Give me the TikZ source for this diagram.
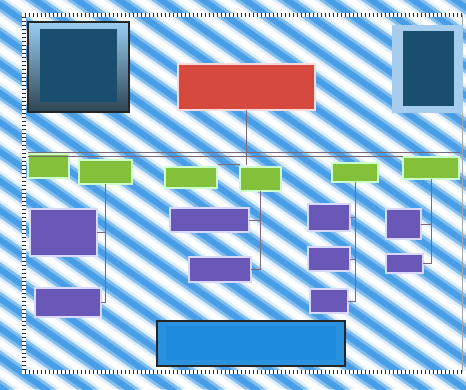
\documentclass[tikz,border=0pt]{standalone}
\definecolor{bglight}{HTML}{B2D8F6}
\definecolor{bgblue}{HTML}{479EE6}
\definecolor{grn}{HTML}{84C13A}
\definecolor{pur}{HTML}{6A58B8}
\definecolor{redb}{HTML}{D6493F}
\definecolor{tealc}{HTML}{1A4E6E}
\definecolor{botblue}{HTML}{2A91DE}
\definecolor{botin}{HTML}{1E8ADD}
\definecolor{conn}{HTML}{7C6878}
\definecolor{framec}{HTML}{1E2A4A}
\definecolor{tltop}{HTML}{9ACDF2}
\definecolor{tlmid}{HTML}{5E9CC4}
\definecolor{tlbot}{HTML}{2C4452}
\definecolor{trout}{HTML}{A6CDEE}
\newcommand\bx[6]{\node[#1, minimum width={(#5-#3)*1pt}, minimum height={(#6-#4)*1pt}] (#2) at ({(#3+#5)/2},{(#4+#6)/2}) {};}
\begin{document}
\begin{tikzpicture}[x=1pt,y=-1pt,
  base/.style={inner sep=0pt, outer sep=0pt, rectangle},
  greenbox/.style={base, fill=grn, draw=white!80!green, line width=1.6pt},
  purbox/.style={base, fill=pur, draw=white!85!blue, line width=1.6pt},
  redbox/.style={base, fill=redb, draw=white!85!red, line width=1.6pt},
  tealbox/.style={base, fill=tealc},
  conline/.style={draw=conn, line width=1pt}]
\path[use as bounding box] (0,0) rectangle (466,389);
\fill[bglight] (0,0) rectangle (466,389);
\begin{scope}
\clip (0,0) rectangle (466,389);
\foreach \k in {-630,-588,...,500} {
  \draw[bgblue, opacity=0.45, line width=13pt] (\k+21,-10) -- ++(600,420);
  \draw[bgblue, line width=6pt] (\k+21,-10) -- ++(600,420);
  \draw[white, opacity=0.6, line width=12pt] (\k,-10) -- ++(600,420);
  \draw[white, line width=6pt] (\k,-10) -- ++(600,420);
}
\end{scope}
% dotted frame
\coordinate (fTL) at (24,15);
\coordinate (fTR) at (462,15);
\coordinate (fBR) at (462,372);
\coordinate (fBL) at (24,372);
\draw[white, line width=4.5pt] (fTR) -- (fTL) -- (fBL) -- (fBR);
\draw[framec, line width=4.5pt, dash pattern=on 1.4pt off 2.6pt] (fTR) -- (fTL) -- (fBL) -- (fBR);
\draw[black!35, line width=0.8pt] (fTR) -- (fBR);
% top boxes
\bx{base, draw=black!85, line width=1.3pt, top color=tltop, middle color=tlmid, bottom color=tlbot}{tlo}{28}{22}{129}{112}
\bx{tealbox}{tli}{40}{29}{117}{102}
\bx{base, fill=trout}{tro}{392}{25}{463}{113}
\bx{tealbox}{tri}{403}{31}{454}{106}
\bx{redbox}{red}{178}{64}{315}{110}
% green row
\bx{greenbox}{g1}{28}{154}{69}{178}
\bx{greenbox}{g2}{79}{160}{132}{184}
\bx{greenbox}{g3}{165}{167}{217}{188}
\bx{greenbox}{g4}{240}{167}{281}{191}
\bx{greenbox}{g5}{332}{163}{378}{182}
\bx{greenbox}{g6}{403}{157}{459}{179}
% purple boxes
\bx{purbox}{p11}{30}{209}{97}{256}
\bx{purbox}{p12}{35}{288}{101}{317}
\bx{purbox}{p21}{170}{208}{249}{232}
\bx{purbox}{p22}{189}{257}{251}{282}
\bx{purbox}{p31}{308}{204}{350}{231}
\bx{purbox}{p32}{308}{247}{350}{271}
\bx{purbox}{p33}{310}{289}{348}{313}
\bx{purbox}{p41}{386}{209}{421}{239}
\bx{purbox}{p42}{386}{254}{423}{273}
% bottom box
\bx{base, fill=botblue, draw=black!85, line width=1.3pt}{bot}{157}{321}{345}{366}
\bx{base, fill=botin}{botinner}{166}{326}{336}{360}
% bus coordinates
\coordinate (busA) at (28,152);
\coordinate (busB) at (460,152);
\coordinate (busC) at (28,156);
\coordinate (busD) at (403,156);
\coordinate (redend) at (245,165);
\coordinate (stubA) at (218,164);
\coordinate (stubB) at (240,164);
% connectors
\draw[conline] (busA) -- (busB);
\draw[conline] (busC) -- (busD);
\draw[conline] (red.south) -- (red.south |- redend);
\draw[conline] (stubA) -- (stubB);
\draw[conline] (g2.south) |- (p12.east);
\draw[conline] (p11.east) -- (p11.east -| g2.south);
\draw[conline] (g4.south) |- (p22.east);
\draw[conline] (p21.east) -- (p21.east -| g4.south);
\draw[conline] (g5.south) |- (p33.east);
\draw[conline] (p31.east) -- (p31.east -| g5.south);
\draw[conline] (p32.east) -- (p32.east -| g5.south);
\draw[conline] (g6.south) |- (p42.east);
\draw[conline] (p41.east) -- (p41.east -| g6.south);
\end{tikzpicture}
\end{document}
